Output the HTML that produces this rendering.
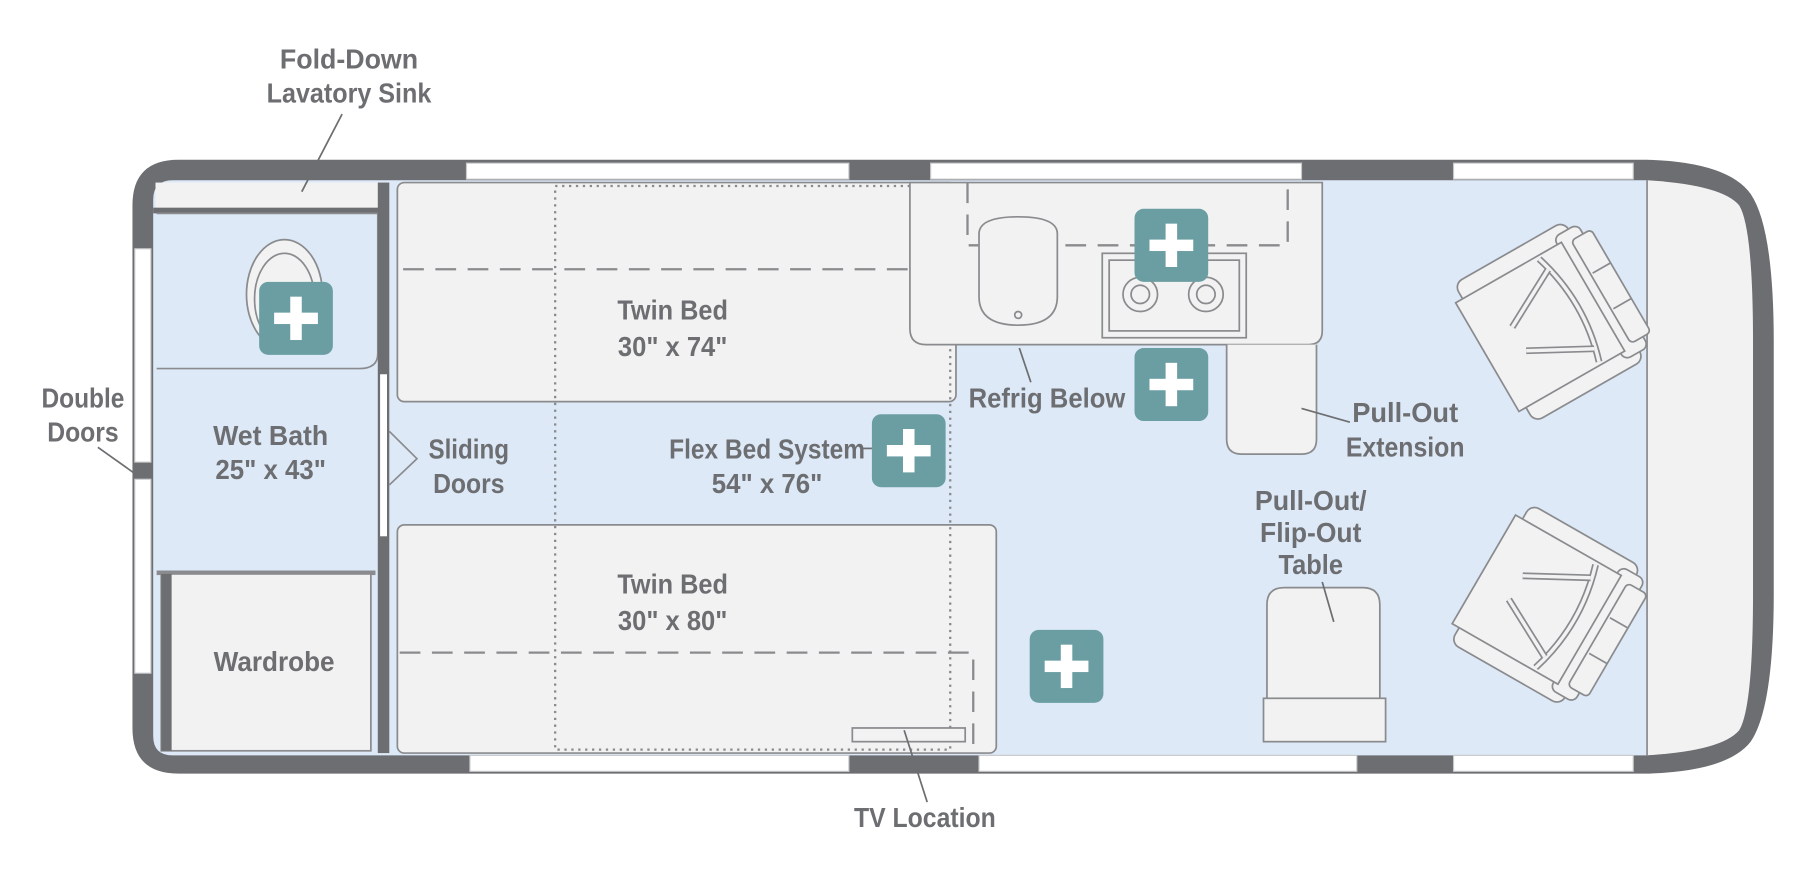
<!DOCTYPE html>
<html><head><meta charset="utf-8"><style>
html,body{margin:0;padding:0;background:#fff;}
svg{display:block}
text{font-family:"Liberation Sans Narrow","Liberation Sans",sans-serif;font-weight:bold;fill:#6d6e71;font-size:24px;text-anchor:middle}
</style></head><body>
<svg width="1806" height="890" viewBox="0 0 1568 780" preserveAspectRatio="none" xmlns="http://www.w3.org/2000/svg">
<defs>
<g id="chair">
  <rect x="-55" y="-70" width="110" height="22" rx="8" fill="#f2f2f2" stroke="#8a8b8e" stroke-width="1.5"/>
  <rect x="-55" y="48" width="110" height="22" rx="8" fill="#f2f2f2" stroke="#8a8b8e" stroke-width="1.5"/>
  <rect x="40" y="-62" width="24" height="124" rx="6" fill="#f2f2f2" stroke="#8a8b8e" stroke-width="1.5"/>
  <rect x="52" y="-52" width="20" height="104" rx="4" fill="#f2f2f2" stroke="#8a8b8e" stroke-width="1.5"/>
  <line x1="54" y1="-18" x2="72" y2="-18" stroke="#8a8b8e" stroke-width="1.5"/>
  <line x1="54" y1="18" x2="72" y2="18" stroke="#8a8b8e" stroke-width="1.5"/>
  <rect x="-62" y="-55" width="106" height="110" fill="#f2f2f2" stroke="#8a8b8e" stroke-width="1.5"/>
  <path d="M20,-52 Q36,0 20,52" fill="none" stroke="#8a8b8e" stroke-width="6"/>
  <path d="M20,-52 Q36,0 20,52" fill="none" stroke="#f2f2f2" stroke-width="3"/>
  <line x1="22" y1="-40" x2="-30" y2="-12" stroke="#8a8b8e" stroke-width="6"/>
  <line x1="22" y1="-40" x2="-30" y2="-12" stroke="#f2f2f2" stroke-width="3"/>
  <line x1="22" y1="40" x2="-30" y2="12" stroke="#8a8b8e" stroke-width="6"/>
  <line x1="22" y1="40" x2="-30" y2="12" stroke="#f2f2f2" stroke-width="3"/>
</g>
<g id="plus">
  <rect x="0" y="0" width="64" height="64" rx="8" fill="#6b9ea3"/>
  <rect x="27" y="13" width="10" height="38" fill="#fff"/>
  <rect x="13" y="27" width="38" height="10" fill="#fff"/>
</g>
</defs>
<path d="M155,140 H1430 Q1500,142 1520,170 Q1540,200 1540,300 V520 Q1540,620 1520,650 Q1500,676 1430,678 H155 Q115,678 115,638 V180 Q115,140 155,140 Z" fill="#6d6e71"/>
<path d="M150,158 H1430 V662 H150 Q133,662 133,645 V175 Q133,158 150,158 Z" fill="#dde9f7"/>
<path d="M1430,158 Q1495,162 1510,180 Q1522,200 1522,300 V520 Q1522,620 1510,640 Q1495,658 1430,662 Z" fill="#f2f2f2"/>
<line x1="1430" y1="158" x2="1430" y2="662" stroke="#8a8b8e" stroke-width="1.5"/>
<g fill="#fff" stroke="#c8c9cb" stroke-width="1">
<rect x="405" y="143" width="332" height="14"/><rect x="808" y="143" width="322" height="14"/><rect x="1262" y="143" width="156" height="14"/>
<rect x="408" y="662" width="329" height="14"/><rect x="850" y="662" width="328" height="14"/><rect x="1262" y="662" width="156" height="14"/>
<rect x="117" y="218" width="14" height="187"/><rect x="117" y="420" width="14" height="170"/>
</g>
<rect x="135" y="160" width="195" height="25" fill="#f2f2f2"/>
<rect x="133" y="182" width="200" height="5" fill="#6d6e71"/>
<path d="M136,187 H328 V310 Q328,323 312,323 H136" fill="#dde9f7" stroke="#8a8b8e" stroke-width="1.5"/>
<rect x="136" y="500" width="190" height="4" fill="#8a8b8e"/>
<rect x="328" y="160" width="10" height="500" fill="#6d6e71"/>
<rect x="330" y="328" width="6" height="142" fill="#fff"/>
<rect x="140" y="503" width="182" height="155" fill="#f2f2f2" stroke="#8a8b8e" stroke-width="1.5"/>
<rect x="140" y="503" width="9" height="155" fill="#6d6e71"/>
<ellipse cx="247" cy="258" rx="33" ry="48" fill="#f2f2f2" stroke="#8a8b8e" stroke-width="1.5"/>
<ellipse cx="247" cy="262" rx="26" ry="40" fill="none" stroke="#8a8b8e" stroke-width="1.5"/>
<path d="M338,378 L362,402 L338,425" fill="none" stroke="#8a8b8e" stroke-width="1.5"/>
<rect x="345" y="160" width="485" height="192" rx="6" fill="#f2f2f2" stroke="#8a8b8e" stroke-width="1.5"/>
<line x1="350" y1="236" x2="825" y2="236" stroke="#8a8b8e" stroke-width="2" stroke-dasharray="18,10"/>
<rect x="345" y="460" width="520" height="200" rx="6" fill="#f2f2f2" stroke="#8a8b8e" stroke-width="1.5"/>
<path d="M347,572 H845 V658" fill="none" stroke="#8a8b8e" stroke-width="2" stroke-dasharray="18,10"/>
<rect x="482" y="163" width="343" height="494" fill="none" stroke="#8a8b8e" stroke-width="2" stroke-dasharray="2,4"/>
<rect x="740" y="638" width="98" height="12" fill="#f2f2f2" stroke="#8a8b8e" stroke-width="1.5"/>
<path d="M790,160 H1148 V290 Q1148,302 1136,302 H804 Q790,302 790,288 Z" fill="#f2f2f2" stroke="#8a8b8e" stroke-width="1.5"/>
<path d="M840,160 V215 H1118 V160" fill="none" stroke="#8a8b8e" stroke-width="2" stroke-dasharray="18,10"/>
<path d="M850,205 Q850,190 884,190 Q918,190 918,205 L918,260 Q918,285 884,285 Q850,285 850,260 Z" fill="#f2f2f2" stroke="#8a8b8e" stroke-width="1.5"/>
<circle cx="884" cy="276" r="3" fill="none" stroke="#8a8b8e" stroke-width="1.5"/>
<rect x="957" y="222" width="125" height="74" fill="#f2f2f2" stroke="#8a8b8e" stroke-width="1.5"/>
<rect x="963" y="228" width="113" height="62" fill="none" stroke="#8a8b8e" stroke-width="1.5"/>
<circle cx="990" cy="258" r="15" fill="none" stroke="#8a8b8e" stroke-width="1.5"/><circle cx="990" cy="258" r="8" fill="none" stroke="#8a8b8e" stroke-width="1.5"/>
<circle cx="1047" cy="258" r="15" fill="none" stroke="#8a8b8e" stroke-width="1.5"/><circle cx="1047" cy="258" r="8" fill="none" stroke="#8a8b8e" stroke-width="1.5"/>
<path d="M1065,302 V385 Q1065,398 1078,398 H1130 Q1143,398 1143,385 V302" fill="#f2f2f2" stroke="#8a8b8e" stroke-width="1.5"/>
<path d="M1100,612 V530 Q1100,515 1115,515 H1183 Q1198,515 1198,530 V612" fill="#f2f2f2" stroke="#8a8b8e" stroke-width="1.5"/>
<rect x="1097" y="612" width="106" height="38" fill="#f2f2f2" stroke="#8a8b8e" stroke-width="1.5"/>
<use href="#chair" transform="translate(1345,282) rotate(-30)"/>
<use href="#chair" transform="translate(1342,530) scale(1,-1) rotate(-30)"/>
<use href="#plus" x="985" y="183"/><use href="#plus" x="985" y="305"/><use href="#plus" x="757" y="363"/><use href="#plus" x="894" y="552"/><use href="#plus" x="225" y="247"/>
<g stroke="#6d6e71" stroke-width="1.5">
<line x1="297" y1="100" x2="262" y2="168"/><line x1="85" y1="392" x2="117" y2="415"/>
<line x1="885" y1="305" x2="895" y2="335"/><line x1="1130" y1="358" x2="1172" y2="370"/>
<line x1="1148" y1="510" x2="1158" y2="545"/><line x1="785" y1="640" x2="805" y2="703"/>
<line x1="748" y1="393" x2="757" y2="393"/>
</g>
<g>
<text x="303" y="60" textLength="120" lengthAdjust="spacingAndGlyphs">Fold-Down</text><text x="303" y="90" textLength="143" lengthAdjust="spacingAndGlyphs">Lavatory Sink</text>
<text x="72" y="357" textLength="72" lengthAdjust="spacingAndGlyphs">Double</text><text x="72" y="387" textLength="62" lengthAdjust="spacingAndGlyphs">Doors</text>
<text x="235" y="390" textLength="100" lengthAdjust="spacingAndGlyphs">Wet Bath</text><text x="235" y="420" textLength="96" lengthAdjust="spacingAndGlyphs">25" x 43"</text>
<text x="407" y="402" textLength="70" lengthAdjust="spacingAndGlyphs">Sliding</text><text x="407" y="432" textLength="62" lengthAdjust="spacingAndGlyphs">Doors</text>
<text x="584" y="280" textLength="96" lengthAdjust="spacingAndGlyphs">Twin Bed</text><text x="584" y="312" textLength="95" lengthAdjust="spacingAndGlyphs">30" x 74"</text>
<text x="666" y="402" textLength="170" lengthAdjust="spacingAndGlyphs">Flex Bed System</text><text x="666" y="432" textLength="96" lengthAdjust="spacingAndGlyphs">54" x 76"</text>
<text x="584" y="520" textLength="96" lengthAdjust="spacingAndGlyphs">Twin Bed</text><text x="584" y="552" textLength="95" lengthAdjust="spacingAndGlyphs">30" x 80"</text>
<text x="238" y="588" textLength="105" lengthAdjust="spacingAndGlyphs">Wardrobe</text>
<text x="909" y="357" textLength="136" lengthAdjust="spacingAndGlyphs">Refrig Below</text>
<text x="1220" y="370" textLength="92" lengthAdjust="spacingAndGlyphs">Pull-Out</text><text x="1220" y="400" textLength="103" lengthAdjust="spacingAndGlyphs">Extension</text>
<text x="1138" y="447" textLength="97" lengthAdjust="spacingAndGlyphs">Pull-Out/</text><text x="1138" y="475" textLength="88" lengthAdjust="spacingAndGlyphs">Flip-Out</text><text x="1138" y="503" textLength="56" lengthAdjust="spacingAndGlyphs">Table</text>
<text x="803" y="725" textLength="123" lengthAdjust="spacingAndGlyphs">TV Location</text>
</g>
</svg>
</body></html>
